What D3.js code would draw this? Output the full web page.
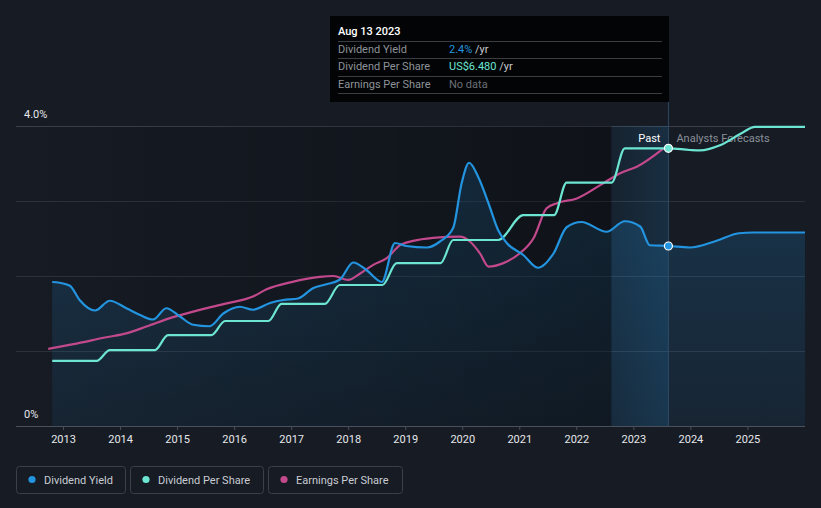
<!DOCTYPE html>
<html>
<head>
<meta charset="utf-8">
<script src="https://cdn.jsdelivr.net/npm/d3@7"></script>
<style>
  html, body { margin: 0; padding: 0; background: #161b24; }
  svg { display: block; font-family: Roboto, "Noto Sans", sans-serif; }
</style>
</head>
<body>
<svg id="chart" width="821" height="508"></svg>
<script>
// ---------- data (decimal years) ----------
const yieldDates = [2012.81,2012.94,2013.12,2013.29,2013.56,2013.82,2014.11,2014.35,2014.58,2014.81,2015.05,2015.28,2015.57,2015.81,2016.10,2016.33,2016.63,2016.86,2017.12,2017.39,2017.62,2017.85,2018.09,2018.32,2018.59,2018.82,2019.02,2019.38,2019.61,2019.84,2019.99,2020.12,2020.28,2020.46,2020.63,2020.78,2021.07,2021.33,2021.60,2021.83,2022.09,2022.53,2022.85,2023.12,2023.29,2023.62,2023.99,2024.46,2024.85,2025.10,2026.01];
const yieldValues = [1.92,1.91,1.87,1.68,1.54,1.67,1.57,1.48,1.42,1.57,1.46,1.35,1.33,1.50,1.59,1.55,1.64,1.68,1.70,1.84,1.89,1.95,2.18,2.08,1.92,2.44,2.40,2.38,2.46,2.64,3.24,3.51,3.32,2.97,2.61,2.44,2.28,2.11,2.30,2.65,2.72,2.59,2.73,2.66,2.41,2.40,2.38,2.47,2.57,2.58,2.58];

const dpsDates = [2012.81,2013.59,2013.82,2014.61,2014.84,2015.60,2015.84,2016.60,2016.83,2017.59,2017.85,2018.60,2018.85,2019.62,2019.84,2020.63,2021.07,2021.61,2021.83,2022.62,2022.85,2023.62,2023.99,2024.17,2024.52,2024.92,2025.13,2026.01];
const dpsValues = [1.52,1.52,1.77,1.77,2.12,2.12,2.45,2.45,2.85,2.85,3.29,3.29,3.80,3.80,4.34,4.34,4.92,4.92,5.68,5.68,6.48,6.48,6.44,6.43,6.55,6.85,6.98,6.98];

const epsDates = [2012.74,2013.18,2013.76,2014.11,2014.46,2014.93,2015.40,2015.87,2016.33,2016.57,2017.04,2017.50,2017.74,2018.00,2018.21,2018.44,2018.67,2018.91,2019.14,2019.49,2019.96,2020.14,2020.31,2020.46,2020.72,2021.01,2021.25,2021.48,2021.66,2022.01,2022.42,2022.77,2023.06,2023.53];
const epsValues = [1.80,1.91,2.07,2.16,2.32,2.54,2.71,2.86,3.02,3.19,3.37,3.48,3.50,3.41,3.56,3.76,3.91,4.22,4.32,4.39,4.42,4.30,4.03,3.72,3.80,4.03,4.38,5.08,5.20,5.31,5.62,5.90,6.05,6.48];

const xTickYears = [2013,2014,2015,2016,2017,2018,2019,2020,2021,2022,2023,2024,2025];
const yTicks = [0,1,2,3,4];
const yTickLabels = {0: "0%", 4: "4.0%"};
const seriesNames = ["Dividend Yield", "Dividend Per Share", "Earnings Per Share"];
const seriesColors = ["#2394df", "#6ce5d2", "#c2498c"];

const tooltipDate = 2023.615;
const tooltipTitle = "Aug 13 2023";
const tooltipRows = [
  {label: "Dividend Yield", value: "2.4%", unit: " /yr", color: "#2394df"},
  {label: "Dividend Per Share", value: "US$6.480", unit: " /yr", color: "#6ce5d2"},
  {label: "Earnings Per Share", value: "No data", unit: "", color: "#6b7078"}
];
const pastStart = 2022.615;

// ---------- scales ----------
const svg = d3.select("#chart");
const x = d3.scaleLinear().domain([2012.175, 2026.01]).range([16, 805]);
const y = d3.scaleLinear().domain([0, 4]).range([426, 126]);
const y2 = d3.scaleLinear().domain([0, 7]).range([426, 126]);

const yieldData = yieldDates.map((d, i) => ({t: d, v: yieldValues[i]}));
const dpsData = dpsDates.map((d, i) => ({t: d, v: dpsValues[i]}));
const epsData = epsDates.map((d, i) => ({t: d, v: epsValues[i]}));

const defs = svg.append("defs");
const gAreaGrad = defs.append("linearGradient").attr("id", "areaGrad")
  .attr("x1", 0).attr("x2", 0).attr("y1", 0).attr("y2", 1);
gAreaGrad.append("stop").attr("offset", "0%").attr("stop-color", "#2394df").attr("stop-opacity", 0.22);
gAreaGrad.append("stop").attr("offset", "100%").attr("stop-color", "#2394df").attr("stop-opacity", 0.08);

const darkGrad = defs.append("linearGradient").attr("id", "darkGrad")
  .attr("x1", 0).attr("x2", 1).attr("y1", 0).attr("y2", 0);
darkGrad.append("stop").attr("offset", "0%").attr("stop-color", "#000").attr("stop-opacity", 0);
darkGrad.append("stop").attr("offset", "100%").attr("stop-color", "#000").attr("stop-opacity", 0.32);

const pastGrad = defs.append("linearGradient").attr("id", "pastGrad")
  .attr("x1", 0).attr("x2", 1).attr("y1", 0).attr("y2", 0);
pastGrad.append("stop").attr("offset", "0%").attr("stop-color", "#2394df").attr("stop-opacity", 0.06);
pastGrad.append("stop").attr("offset", "100%").attr("stop-color", "#2394df").attr("stop-opacity", 0.16);

// ---------- grid ----------
svg.append("g").selectAll("line").data(yTicks.filter(d => d > 0)).join("line")
  .attr("x1", 16).attr("x2", 805)
  .attr("y1", d => y(d)).attr("y2", d => y(d))
  .attr("stroke", d => d === 4 ? "#3a4049" : "#2c323b").attr("stroke-width", 1)
  .attr("shape-rendering", "crispEdges");

// ---------- yield area ----------
const curve = d3.curveMonotoneX;
svg.append("path").datum(yieldData)
  .attr("d", d3.area().curve(curve).x(d => x(d.t)).y0(y(0)).y1(d => y(d.v)))
  .attr("fill", "url(#areaGrad)");

// dark overlay on past
svg.append("rect").attr("x", 16).attr("y", 126).attr("width", x(pastStart) - 16).attr("height", 300)
  .attr("fill", "url(#darkGrad)");
// past highlight band
svg.append("rect").attr("x", x(pastStart)).attr("y", 126)
  .attr("width", x(tooltipDate) - x(pastStart)).attr("height", 300)
  .attr("fill", "url(#pastGrad)");

// ---------- Past / Forecast labels ----------
svg.append("text").attr("x", x(tooltipDate) - 8).attr("y", 142).attr("text-anchor", "end")
  .attr("fill", "#ffffff").attr("font-size", 11).text("Past");
svg.append("text").attr("x", x(tooltipDate) + 8).attr("y", 142)
  .attr("fill", "#8a9099").attr("font-size", 11).text("Analysts Forecasts");

// vertical tooltip line
svg.append("line").attr("x1", x(tooltipDate)).attr("x2", x(tooltipDate))
  .attr("y1", 101).attr("y2", 426).attr("stroke", "#2e4a66").attr("stroke-width", 1);

// ---------- axis ----------
const xAxis = d3.axisBottom(x).tickValues(xTickYears).tickFormat(d3.format("d")).tickSize(4).tickPadding(5);
const gx = svg.append("g").attr("transform", "translate(0,426)").call(xAxis);
gx.select(".domain").attr("stroke", "#4a515c").attr("d", "M16,0.5H805");
gx.selectAll(".tick line").attr("stroke", "#4a515c");
gx.selectAll(".tick text").attr("fill", "#e6e8eb").attr("font-size", 11)
  .attr("font-family", "Roboto, sans-serif");

// y labels
svg.append("g").selectAll("text").data(yTicks.filter(d => yTickLabels[d])).join("text")
  .attr("x", 24).attr("y", d => y(d) - 8)
  .attr("fill", "#e6e8eb").attr("font-size", 11).text(d => yTickLabels[d]);

// ---------- lines ----------
const lineGen = (sc) => d3.line().curve(curve).x(d => x(d.t)).y(d => sc(d.v));
svg.append("path").datum(epsData).attr("d", lineGen(y2))
  .attr("fill", "none").attr("stroke", seriesColors[2]).attr("stroke-width", 2.2);
svg.append("path").datum(dpsData).attr("d", lineGen(y2))
  .attr("fill", "none").attr("stroke", seriesColors[1]).attr("stroke-width", 2.2);
svg.append("path").datum(yieldData).attr("d", lineGen(y))
  .attr("fill", "none").attr("stroke", seriesColors[0]).attr("stroke-width", 2.2);

// dots
const tipYield = yieldData.find(d => Math.abs(d.t - 2023.62) < 0.01).v;
const tipDps = dpsData.find(d => Math.abs(d.t - 2023.62) < 0.01).v;
svg.append("circle").attr("cx", x(tooltipDate)).attr("cy", y2(tipDps)).attr("r", 4)
  .attr("fill", seriesColors[1]).attr("stroke", "#ffffff").attr("stroke-width", 1.2);
svg.append("circle").attr("cx", x(tooltipDate)).attr("cy", y(tipYield)).attr("r", 4)
  .attr("fill", seriesColors[0]).attr("stroke", "#ffffff").attr("stroke-width", 1.2);

// ---------- tooltip ----------
const tip = svg.append("g");
tip.append("rect").attr("x", 330).attr("y", 16).attr("width", 339).attr("height", 86).attr("fill", "#030405");
tip.append("text").attr("x", 338).attr("y", 35).attr("fill", "#ffffff").attr("font-size", 11)
  .attr("font-weight", 500).text(tooltipTitle);
[41.5, 58.5, 76, 93].forEach(yy => {
  tip.append("line").attr("x1", 338).attr("x2", 662).attr("y1", yy).attr("y2", yy)
    .attr("stroke", "#3a3d42").attr("stroke-width", 1).attr("shape-rendering", "crispEdges");
});
tooltipRows.forEach((r, i) => {
  const by = 53 + i * 17.3;
  tip.append("text").attr("x", 338).attr("y", by).attr("fill", "#8e9399").attr("font-size", 11).text(r.label);
  const t = tip.append("text").attr("x", 449).attr("y", by).attr("font-size", 11);
  t.append("tspan").attr("fill", r.color).text(r.value);
  if (r.unit) t.append("tspan").attr("fill", "#c9ccd0").text(r.unit);
});

// ---------- legend ----------
const legendBoxes = [{x: 16, w: 109}, {x: 130, w: 133}, {x: 268, w: 134}];
const lg = svg.append("g");
seriesNames.forEach((name, i) => {
  const b = legendBoxes[i];
  lg.append("rect").attr("x", b.x + 0.5).attr("y", 466.5).attr("width", b.w).attr("height", 27)
    .attr("rx", 3).attr("fill", "none").attr("stroke", "#3a404a");
  lg.append("circle").attr("cx", b.x + 16).attr("cy", 479.5).attr("r", 3.6).attr("fill", seriesColors[i]);
  lg.append("text").attr("x", b.x + 28).attr("y", 483.5).attr("fill", "#c9ccd2").attr("font-size", 11).text(name);
});
</script>
</body>
</html>
